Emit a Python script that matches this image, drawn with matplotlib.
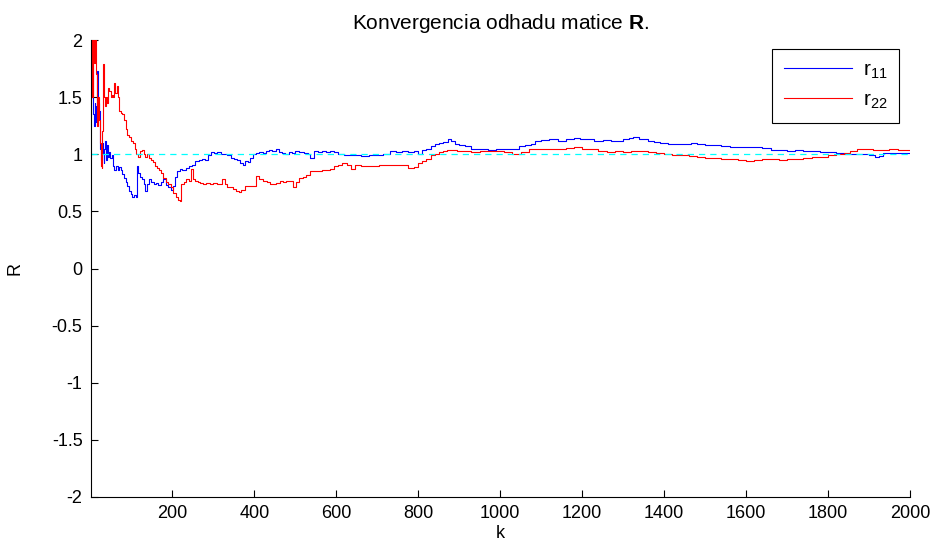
import matplotlib

matplotlib.use("Agg")
import matplotlib.pyplot as plt

plt.rcParams["font.family"] = ["Liberation Sans", "DejaVu Sans"]
plt.rcParams["mathtext.fontset"] = "custom"
plt.rcParams["mathtext.rm"] = "Liberation Sans"
plt.rcParams["mathtext.bf"] = "Liberation Sans:bold"

# estimates of r11 (k, value)
k_r11 = [1, 3, 5, 8, 10, 12, 14, 16, 18, 20, 22, 24, 26, 28, 30, 32, 34, 36, 38, 40,
         42, 45, 48, 52, 55, 58, 62, 66, 70, 74, 78, 82, 86, 90, 94, 98, 102, 106, 110, 113,
         116, 120, 125, 130, 134, 138, 142, 148, 154, 160, 166, 172, 178, 184, 190, 196, 201, 206, 212, 218,
         224, 232, 240, 248, 256, 264, 272, 280, 288, 295, 302, 310, 318, 326, 334, 342, 350, 358, 366, 372,
         378, 384, 390, 396, 404, 412, 420, 428, 436, 444, 452, 460, 468, 476, 484, 492, 500, 510, 520, 530,
         537, 545, 555, 565, 575, 585, 595, 605, 620, 640, 660, 680, 700, 715, 730, 745, 760, 775, 790, 800,
         810, 820, 830, 840, 850, 860, 872, 880, 890, 900, 915, 930, 950, 970, 990, 1010, 1030, 1045, 1060, 1075,
         1085, 1100, 1120, 1140, 1160, 1180, 1195, 1210, 1230, 1250, 1270, 1285, 1300, 1315, 1325, 1340, 1360, 1375, 1390, 1410,
         1430, 1450, 1465, 1480, 1500, 1520, 1540, 1560, 1580, 1600, 1620, 1640, 1660, 1680, 1700, 1720, 1740, 1760, 1780, 1800,
         1820, 1840, 1860, 1880, 1900, 1915, 1925, 1935, 1960, 1980, 2000]
r11 = [1.5, 1.5, 1.35, 1.25, 1.45, 1.28, 1.42, 1.73, 1.45, 1.3, 1.38, 1.05, 0.95, 1.1, 1.0, 0.92, 1.05, 1.12, 0.95, 1.08,
       0.98, 1.02, 0.97, 0.99, 0.9, 0.86, 0.9, 0.86, 0.89, 0.86, 0.83, 0.79, 0.76, 0.72, 0.68, 0.65, 0.63, 0.64, 0.63, 0.9,
       0.84, 0.8, 0.78, 0.74, 0.68, 0.74, 0.78, 0.76, 0.74, 0.75, 0.73, 0.76, 0.78, 0.73, 0.71, 0.69, 0.72, 0.8, 0.85, 0.87,
       0.86, 0.88, 0.9, 0.91, 0.94, 0.95, 0.96, 0.95, 0.99, 1.02, 1.01, 1.02, 1.0, 1.0, 0.99, 0.97, 0.96, 0.95, 0.92, 0.91,
       0.94, 0.93, 0.97, 1.0, 1.01, 1.02, 1.01, 1.03, 1.04, 1.03, 1.05, 1.02, 1.01, 1.0, 1.02, 1.01, 1.03, 1.02, 1.01, 1.0,
       0.97, 1.03, 1.02, 1.03, 1.02, 1.03, 1.02, 1.0, 0.99, 0.99, 0.985, 0.99, 0.99, 1.0, 1.03, 1.02, 1.03, 1.02, 1.03, 1.0,
       1.04, 1.05, 1.07, 1.09, 1.1, 1.11, 1.13, 1.12, 1.09, 1.08, 1.07, 1.05, 1.05, 1.04, 1.045, 1.05, 1.05, 1.07, 1.08, 1.09,
       1.12, 1.125, 1.13, 1.12, 1.13, 1.145, 1.13, 1.13, 1.12, 1.125, 1.12, 1.12, 1.13, 1.14, 1.15, 1.13, 1.12, 1.11, 1.1, 1.09,
       1.09, 1.09, 1.1, 1.09, 1.085, 1.08, 1.07, 1.065, 1.06, 1.06, 1.06, 1.055, 1.04, 1.035, 1.03, 1.035, 1.025, 1.03, 1.02, 1.02,
       1.01, 1.005, 1.0, 1.0, 0.99, 0.98, 0.985, 1.01, 1.01, 1.015, 1.015]

# estimates of r22 (k, value)
k_r22 = [1, 2, 3, 5, 7, 9, 11, 13, 15, 17, 19, 21, 23, 25, 27, 29, 31, 33, 35, 37,
         40, 43, 46, 49, 52, 55, 58, 61, 64, 67, 70, 74, 78, 82, 86, 90, 95, 100, 104, 108,
         112, 116, 120, 125, 130, 134, 138, 142, 147, 152, 157, 162, 167, 172, 178, 184, 190, 196, 202, 208,
         214, 218, 222, 228, 234, 240, 246, 250, 256, 262, 268, 275, 283, 291, 300, 308, 315, 322, 328, 334,
         340, 348, 356, 362, 368, 376, 384, 392, 400, 405, 412, 420, 430, 438, 446, 454, 462, 470, 478, 486,
         495, 502, 510, 518, 526, 535, 545, 555, 565, 575, 585, 595, 605, 615, 625, 635, 645, 660, 675, 690,
         705, 720, 740, 760, 775, 790, 800, 810, 820, 830, 840, 850, 860, 870, 880, 895, 910, 930, 950, 970,
         990, 1010, 1030, 1050, 1070, 1085, 1100, 1120, 1140, 1160, 1180, 1200, 1220, 1240, 1260, 1280, 1300, 1320, 1340, 1360,
         1380, 1400, 1420, 1440, 1460, 1480, 1500, 1520, 1540, 1560, 1580, 1600, 1620, 1640, 1660, 1680, 1700, 1720, 1740, 1760,
         1780, 1800, 1820, 1840, 1855, 1870, 1890, 1910, 1930, 1950, 1970, 2000]
r22 = [2.3, 1.5, 2.5, 1.5, 2.4, 1.8, 2.2, 1.7, 1.5, 1.25, 1.5, 1.3, 1.1, 0.9, 0.88, 1.2, 1.79, 1.5, 1.42, 1.5,
       1.45, 1.58, 1.55, 1.5, 1.52, 1.5, 1.62, 1.54, 1.6, 1.5, 1.38, 1.36, 1.35, 1.3, 1.22, 1.17, 1.15, 1.12, 1.1, 1.05,
       1.0, 0.98, 1.03, 1.04, 1.0, 0.98, 1.0, 0.97, 0.95, 0.93, 0.9, 0.88, 0.86, 0.84, 0.79, 0.76, 0.74, 0.71, 0.66, 0.63,
       0.6, 0.59, 0.74, 0.76, 0.78, 0.77, 0.87, 0.78, 0.77, 0.76, 0.75, 0.74, 0.75, 0.74, 0.75, 0.74, 0.74, 0.78, 0.74, 0.71,
       0.71, 0.7, 0.68, 0.67, 0.69, 0.72, 0.72, 0.72, 0.72, 0.81, 0.78, 0.77, 0.76, 0.74, 0.74, 0.75, 0.77, 0.76, 0.77, 0.77,
       0.71, 0.76, 0.79, 0.8, 0.82, 0.85, 0.85, 0.85, 0.86, 0.86, 0.87, 0.9, 0.91, 0.92, 0.905, 0.87, 0.91, 0.9, 0.9, 0.9,
       0.91, 0.91, 0.91, 0.905, 0.88, 0.89, 0.92, 0.94, 0.96, 0.99, 1.0, 1.02, 1.03, 1.035, 1.04, 1.03, 1.03, 1.02, 1.025, 1.03,
       1.03, 1.02, 1.0, 1.02, 1.045, 1.05, 1.045, 1.05, 1.05, 1.055, 1.06, 1.05, 1.045, 1.03, 1.02, 1.03, 1.02, 1.03, 1.03, 1.02,
       1.01, 1.0, 0.995, 0.99, 0.985, 0.975, 0.97, 0.965, 0.96, 0.955, 0.95, 0.945, 0.95, 0.955, 0.955, 0.95, 0.96, 0.96, 0.97, 0.975,
       0.98, 0.99, 1.0, 1.01, 1.03, 1.045, 1.045, 1.04, 1.04, 1.045, 1.04, 1.04]

true_value = 1.0
x_ticks = [200, 400, 600, 800, 1000, 1200, 1400, 1600, 1800, 2000]
y_ticks = [-2, -1.5, -1, -0.5, 0, 0.5, 1, 1.5, 2]
y_labels = ["-2", "-1.5", "-1", "-0.5", "0", "0.5", "1", "1.5", "2"]

fig = plt.figure(figsize=(9.37, 5.44), dpi=100)
ax = fig.add_axes([0.097, 0.0864, 0.874, 0.840])

ax.plot(k_r11, r11, color="#0000ff", linewidth=0.8, drawstyle="steps-post", label="r$_{11}$")
ax.plot(k_r22, r22, color="#ff0000", linewidth=0.8, drawstyle="steps-post", label="r$_{22}$")
ax.axhline(true_value, color="#00ffff", linestyle=(0, (5, 4)), linewidth=0.9)

ax.set_xlim(1, 2000)
ax.set_ylim(-2, 2)
ax.set_xticks(x_ticks)
ax.set_yticks(y_ticks)
ax.set_yticklabels(y_labels)
ax.tick_params(direction="in", length=5, width=0.8, labelsize=13, pad=6)
for side in ["top", "right"]:
    ax.spines[side].set_visible(False)

ax.set_title("Konvergencia odhadu matice $\\mathbf{R}$.", fontsize=15, pad=8)
ax.set_xlabel("k", fontsize=13, labelpad=2)
ax.set_ylabel("R", fontsize=13, labelpad=20)

leg = ax.legend(loc="upper right", bbox_to_anchor=(0.9866, 0.980), borderaxespad=0,
                fontsize=15, fancybox=False, framealpha=1, edgecolor="black",
                handlelength=3.3, handletextpad=0.5, borderpad=0.55, labelspacing=0.45)
leg.get_frame().set_linewidth(0.8)

fig.savefig("out.png", dpi=100)
